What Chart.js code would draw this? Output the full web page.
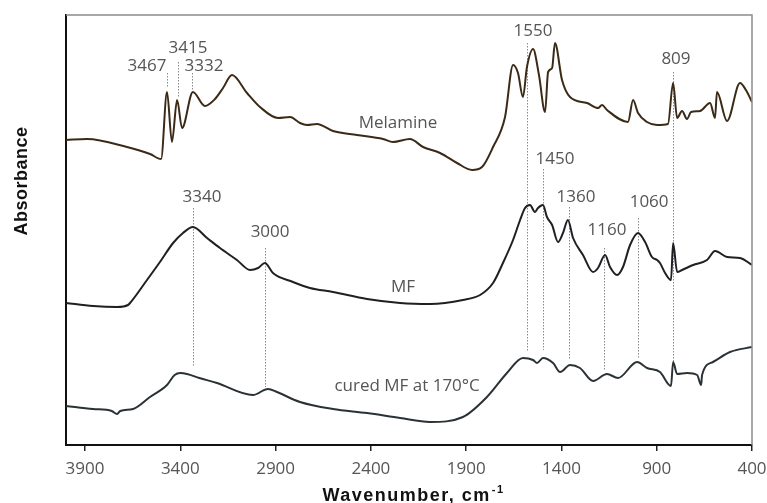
<!DOCTYPE html>
<html>
<head>
<meta charset="utf-8">
<script src="https://cdn.jsdelivr.net/npm/chart.js@4.4.1/dist/chart.umd.min.js"></script>
<style>
  html, body { margin: 0; padding: 0; background: #ffffff; }
  #c { display: block; }
</style>
</head>
<body>
<canvas id="c" width="767" height="503"></canvas>
<script>
// ---------------- DATA ----------------
const xTicks = [3900, 3400, 2900, 2400, 1900, 1400, 900, 400];

// Melamine spectrum: wavenumber (cm-1) and absorbance (a.u., offset)
const melamineWn  = [4000, 3890, 3680, 3559, 3501, 3470, 3444, 3417, 3391, 3334, 3271, 3218, 3176, 3129, 3050, 2982, 2887, 2824, 2772, 2735, 2683, 2599, 2473, 2336, 2284, 2195, 2126, 2037, 1948, 1869, 1817, 1759, 1696, 1654, 1628, 1602, 1581, 1549, 1518, 1486, 1470, 1449, 1434, 1397, 1355, 1266, 1208, 1187, 1161, 1051, 1024, 998, 951, 898, 841, 814, 793, 767, 741, 720, 673, 620, 594, 584, 531, 463, 432, 400];
const melamineAbs = [3.05, 3.06, 2.98, 2.91, 2.86, 3.53, 3.03, 3.45, 3.17, 3.53, 3.39, 3.46, 3.57, 3.70, 3.52, 3.38, 3.27, 3.28, 3.22, 3.20, 3.21, 3.14, 3.10, 3.06, 3.03, 3.06, 2.98, 2.92, 2.82, 2.75, 2.78, 2.98, 3.28, 3.80, 3.72, 3.48, 3.78, 3.96, 3.70, 3.33, 3.73, 3.77, 4.02, 3.65, 3.48, 3.42, 3.37, 3.40, 3.35, 3.23, 3.45, 3.32, 3.23, 3.20, 3.21, 3.62, 3.27, 3.34, 3.26, 3.33, 3.34, 3.42, 3.27, 3.53, 3.24, 3.62, 3.55, 3.43];

// MF spectrum
const mfWn  = [4000, 3858, 3732, 3675, 3664, 3575, 3507, 3438, 3386, 3334, 3260, 3192, 3103, 3034, 2992, 2956, 2914, 2809, 2720, 2599, 2420, 2247, 2090, 1917, 1827, 1759, 1707, 1654, 1617, 1591, 1565, 1539, 1523, 1497, 1476, 1449, 1418, 1392, 1366, 1339, 1287, 1234, 1208, 1171, 1145, 1108, 1077, 1040, 998, 961, 925, 898, 883, 856, 825, 814, 793, 767, 709, 636, 594, 531, 463, 400];
const mfAbs = [1.42, 1.39, 1.38, 1.40, 1.42, 1.65, 1.83, 2.02, 2.12, 2.18, 2.07, 1.97, 1.85, 1.75, 1.77, 1.82, 1.72, 1.63, 1.57, 1.53, 1.46, 1.42, 1.41, 1.45, 1.50, 1.62, 1.82, 2.05, 2.25, 2.37, 2.40, 2.33, 2.37, 2.40, 2.28, 2.20, 2.03, 2.12, 2.25, 2.07, 1.90, 1.73, 1.77, 1.90, 1.78, 1.70, 1.78, 2.00, 2.12, 2.03, 1.88, 1.85, 1.82, 1.72, 1.65, 2.02, 1.73, 1.75, 1.80, 1.85, 1.94, 1.88, 1.87, 1.80];

// cured MF at 170 °C spectrum
const curedWn  = [4000, 3858, 3760, 3732, 3715, 3648, 3559, 3470, 3430, 3400, 3365, 3300, 3208, 3019, 2940, 2893, 2772, 2599, 2420, 2247, 2090, 1917, 1791, 1686, 1602, 1549, 1528, 1497, 1444, 1407, 1355, 1303, 1234, 1161, 1103, 1003, 951, 883, 825, 814, 793, 741, 688, 667, 662, 605, 515, 400];
const curedAbs = [0.39, 0.36, 0.34, 0.31, 0.34, 0.36, 0.48, 0.60, 0.70, 0.72, 0.71, 0.67, 0.62, 0.50, 0.56, 0.53, 0.43, 0.36, 0.32, 0.27, 0.23, 0.28, 0.48, 0.72, 0.87, 0.85, 0.82, 0.87, 0.82, 0.73, 0.80, 0.77, 0.64, 0.71, 0.67, 0.83, 0.77, 0.73, 0.59, 0.83, 0.71, 0.72, 0.70, 0.60, 0.70, 0.83, 0.93, 0.98];

// Peak annotations: label text and its anchor, dotted marker line and its extent
const peakLabels   = ['3467', '3415', '3332', '1550', '809', '1450', '1360', '1160', '1060', '3340', '3000'];
const peakLabelWn  = [3575, 3360, 3276, 1549, 799, 1434, 1324, 1161, 940, 3286, 2929];
const peakLabelAbs = [3.79, 3.97, 3.79, 4.14, 3.86, 2.86, 2.48, 2.15, 2.43, 2.48, 2.13];
const markerWn     = [3470, 3412, 3339, 1581, 814, 1497, 1360, 1177, 998, 3334, 2956];
const markerTop    = [3.72, 3.83, 3.72, 4.02, 3.73, 2.76, 2.38, 1.97, 2.27, 2.37, 1.97];
const markerBottom = [3.58, 3.48, 3.55, 0.93, 0.83, 0.95, 0.85, 0.74, 0.87, 0.78, 0.58];

// Series name labels
const seriesNames    = ['Melamine', 'MF', 'cured MF at 170°C'];
const seriesLabelWn  = [2258, 2231, 2210];
const seriesLabelAbs = [3.22, 1.58, 0.59];

// ---------------- CHART ----------------
const toXY = (xs, ys) => xs.map((v, i) => ({ x: v, y: ys[i] }));

const annotPlugin = {
  id: 'annot',
  beforeDatasetsDraw(chart) {
    const { ctx, scales: { x, y } } = chart;
    ctx.save();
    ctx.strokeStyle = '#8a8a8a';
    ctx.lineWidth = 1;
    ctx.setLineDash([1.5, 1.5]);
    markerWn.forEach((w, i) => {
      const px = Math.round(x.getPixelForValue(w)) + 0.5;
      ctx.beginPath();
      ctx.moveTo(px, y.getPixelForValue(markerTop[i]));
      ctx.lineTo(px, y.getPixelForValue(markerBottom[i]));
      ctx.stroke();
    });
    ctx.restore();
  },
  afterDatasetsDraw(chart) {
    const { ctx, scales: { x, y } } = chart;
    ctx.save();
    ctx.fillStyle = '#555555';
    ctx.font = "17px 'Open Sans'";
    ctx.textAlign = 'center';
    ctx.textBaseline = 'middle';
    peakLabels.forEach((t, i) => {
      ctx.fillText(t, x.getPixelForValue(peakLabelWn[i]), y.getPixelForValue(peakLabelAbs[i]));
    });
    seriesNames.forEach((t, i) => {
      ctx.fillText(t, x.getPixelForValue(seriesLabelWn[i]), y.getPixelForValue(seriesLabelAbs[i]));
    });
    ctx.restore();
  },
  afterDraw(chart) {
    const { ctx, chartArea: a } = chart;
    ctx.save();
    // top and right frame
    ctx.strokeStyle = '#8c8c8c';
    ctx.lineWidth = 1.5;
    ctx.beginPath();
    ctx.moveTo(a.left, a.top);
    ctx.lineTo(a.right, a.top);
    ctx.lineTo(a.right, a.bottom);
    ctx.stroke();
    // axis titles
    ctx.fillStyle = '#111111';
    ctx.font = "bold 18px 'Liberation Sans'";
    try { ctx.letterSpacing = '1.5px'; } catch (e) {}
    ctx.textBaseline = 'alphabetic';
    const main = 'Wavenumber, cm';
    const w1 = ctx.measureText(main).width;
    ctx.font = "bold 11px 'Liberation Sans'";
    const sup = '-1';
    const w2 = ctx.measureText(sup).width;
    const cx = (a.left + a.right) / 2 + 4;
    const start = cx - (w1 + w2) / 2;
    ctx.textAlign = 'left';
    ctx.font = "bold 18px 'Liberation Sans'";
    ctx.fillText(main, start, 501);
    ctx.font = "bold 11px 'Liberation Sans'";
    ctx.fillText(sup, start + w1 + 1, 493);
    // y title
    try { ctx.letterSpacing = '0.5px'; } catch (e) {}
    ctx.font = "bold 18px 'Liberation Sans'";
    ctx.translate(27, 181);
    ctx.rotate(-Math.PI / 2);
    ctx.textAlign = 'center';
    ctx.fillText('Absorbance', 0, 0);
    ctx.restore();
  }
};

const lineStyle = (color) => ({
  borderColor: color,
  borderWidth: 2,
  pointRadius: 0,
  cubicInterpolationMode: 'monotone',
  fill: false
});

new Chart(document.getElementById('c'), {
  type: 'line',
  data: {
    datasets: [
      Object.assign({ label: seriesNames[0], data: toXY(melamineWn, melamineAbs) }, lineStyle('#3b2a16')),
      Object.assign({ label: seriesNames[1], data: toXY(mfWn, mfAbs) }, lineStyle('#1f1f24')),
      Object.assign({ label: seriesNames[2], data: toXY(curedWn, curedAbs) }, lineStyle('#2a3236'))
    ]
  },
  options: {
    responsive: false,
    animation: false,
    devicePixelRatio: 1,
    layout: { padding: { top: 15, right: 15, left: 0, bottom: 0 } },
    plugins: { legend: { display: false }, tooltip: { enabled: false } },
    scales: {
      x: {
        type: 'linear',
        reverse: true,
        min: 400,
        max: 4000,
        afterBuildTicks: (s) => { s.ticks = xTicks.map(v => ({ value: v })); },
        afterFit: (s) => { s.height = 58; s.paddingLeft = 0; s.paddingRight = 0; },
        grid: { display: true, drawOnChartArea: false, drawTicks: true, tickLength: 6, color: '#222222', lineWidth: 1.5 },
        border: { display: true, color: '#111111', width: 2 },
        ticks: {
          color: '#555555',
          font: { family: "'Open Sans'", size: 17 },
          padding: 8,
          maxRotation: 0,
          autoSkip: false,
          callback: (v) => String(v)
        }
      },
      y: {
        type: 'linear',
        min: 0,
        max: 4.3,
        afterFit: (s) => { s.width = 66; },
        grid: { display: false },
        border: { display: true, color: '#111111', width: 2 },
        ticks: { display: false }
      }
    }
  },
  plugins: [annotPlugin]
});
</script>
</body>
</html>
